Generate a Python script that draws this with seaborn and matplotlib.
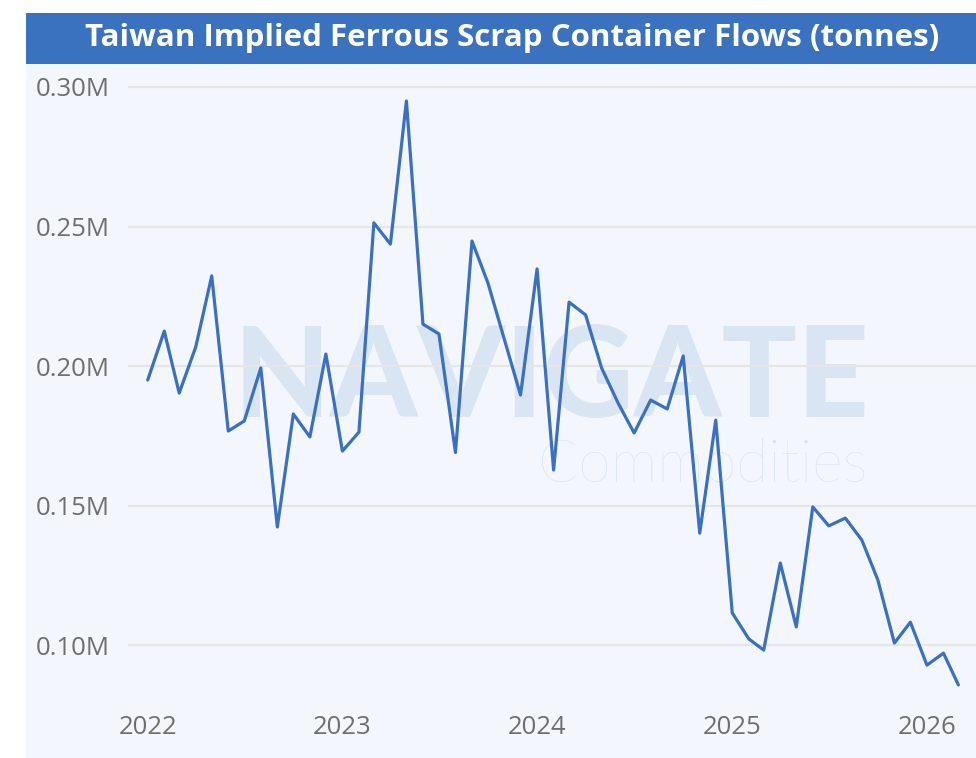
import numpy as np
import pandas as pd
import matplotlib
matplotlib.use("Agg")
import matplotlib.pyplot as plt
from matplotlib.patches import Rectangle
from matplotlib.ticker import FuncFormatter, FixedLocator
import seaborn as sns

# Monthly implied ferrous scrap container flows, tonnes (millions)
start_month = "2022-01-01"
flows_mt = [
    0.1950, 0.2125, 0.1903, 0.2068, 0.2323, 0.1767, 0.1803, 0.1993, 0.1423, 0.1828, 0.1746, 0.2043,
    0.1695, 0.1763, 0.2513, 0.2437, 0.2950, 0.2150, 0.2115, 0.1690, 0.2448, 0.2297, 0.2093, 0.1896,
    0.2348, 0.1627, 0.2229, 0.2183, 0.1993, 0.1867, 0.1760, 0.1878, 0.1846, 0.2036, 0.1401, 0.1806,
    0.1115, 0.1022, 0.0982, 0.1294, 0.1065, 0.1495, 0.1427, 0.1455, 0.1376, 0.1233, 0.1007, 0.1082,
    0.0928, 0.0971, 0.0857,
]
year_ticks = ["2022", "2023", "2024", "2025", "2026"]
y_ticks_mt = [0.10, 0.15, 0.20, 0.25, 0.30]
title = "Taiwan Implied Ferrous Scrap Container Flows (tonnes)"

months = pd.date_range(start_month, periods=len(flows_mt), freq="MS")
df = pd.DataFrame({"month": months, "tonnes": np.array(flows_mt) * 1e6})

sns.set_theme(style="white")
plt.rcParams["font.family"] = ["Open Sans", "DejaVu Sans"]

W, H = 976, 758
fig = plt.figure(figsize=(W / 100, H / 100), dpi=100)
fig.patch.set_facecolor("white")

panel_bg = "#F3F7FD"
bar_blue = "#3A72C0"
line_blue = "#3A70C0"
tick_grey = "#6E6E6E"

# panel background and title bar
fig.add_artist(Rectangle((26 / W, 0), 1 - 26 / W, (H - 13) / H,
                         transform=fig.transFigure, facecolor=panel_bg,
                         edgecolor="none", zorder=-10))
fig.add_artist(Rectangle((26 / W, (H - 64) / H), 1 - 26 / W, 51 / H,
                         transform=fig.transFigure, facecolor=bar_blue,
                         edgecolor="none", zorder=-9))
fig.text(512 / W, (H - 38) / H, title, color="white", fontsize=22.5,
         fontweight="bold", ha="center", va="center")

ax = fig.add_axes([128 / W, (H - 700) / H, 1 - 128 / W, 625 / H])
ax.set_facecolor("none")

# brand watermark behind the series
ax.text(551 / W, (H - 380) / H, "NAVIGATE", transform=fig.transFigure,
        fontsize=90, fontweight="black", color="#DAE5F4", ha="center",
        va="center", family=["Lato", "DejaVu Sans"], zorder=0)
ax.text(703 / W, (H - 466) / H, "Commodities", transform=fig.transFigure,
        fontsize=42.5, fontweight="light", color="#D5E1F2", ha="center",
        va="center", family=["Lato", "DejaVu Sans"], zorder=0)

sns.lineplot(data=df, x="month", y="tonnes", ax=ax, color=line_blue,
             linewidth=2.3, zorder=3)

ax.set_ylim(0.0803e6, 0.3043e6)
ax.set_xlim(pd.Timestamp("2021-11-25"), pd.Timestamp("2026-04-03"))

ax.yaxis.set_major_locator(FixedLocator([v * 1e6 for v in y_ticks_mt]))
ax.yaxis.set_major_formatter(FuncFormatter(lambda v, _: f"{v / 1e6:.2f}M"))
ax.set_xticks([pd.Timestamp(f"{y}-01-01") for y in year_ticks])
ax.set_xticklabels(year_ticks)

ax.grid(axis="y", color="#E6E6E6", linewidth=1.6)
ax.grid(axis="x", visible=False)
ax.set_axisbelow(True)
for s in ax.spines.values():
    s.set_visible(False)
ax.tick_params(axis="both", length=0, labelsize=18.5, labelcolor=tick_grey)
ax.tick_params(axis="y", pad=13)
ax.tick_params(axis="x", pad=11)
ax.set_xlabel("")
ax.set_ylabel("")

fig.savefig("out.png", dpi=100, facecolor="white")
